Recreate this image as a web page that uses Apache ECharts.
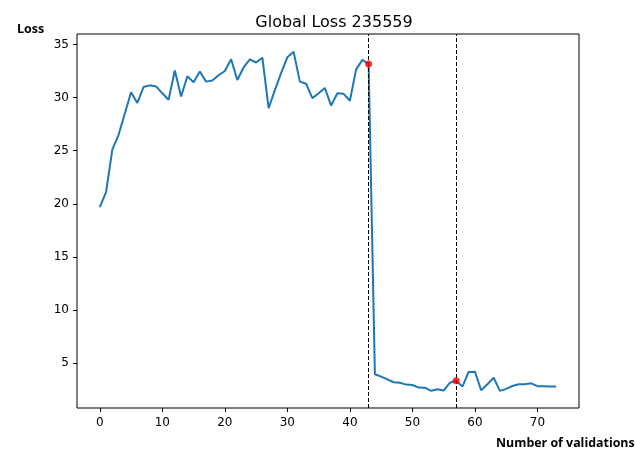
<!DOCTYPE html>
<html>
<head>
<meta charset="utf-8">
<script src="https://cdn.jsdelivr.net/npm/echarts@6/dist/echarts.min.js"></script>
<style>html,body{margin:0;padding:0;background:#fff}#c{width:636px;height:453px}</style>
</head>
<body>
<div id="c"></div>
<script>
const titleText = 'Global Loss 235559';
const yName = 'Loss';
const xName = 'Number of validations';
const lossValues = [
  19.7, 21.1, 25.1, 26.5, 28.5, 30.5, 29.5, 31.0, 31.15, 31.05,
  30.4, 29.8, 32.55, 30.1, 32.0, 31.45, 32.45, 31.5, 31.6, 32.1,
  32.5, 33.6, 31.65, 32.85, 33.6, 33.3, 33.75, 29.0, 30.7, 32.3,
  33.8, 34.3, 31.5, 31.3, 29.95, 30.4, 30.9, 29.25, 30.4, 30.35,
  29.7, 32.65, 33.55, 33.15, 3.97, 3.75, 3.5, 3.22, 3.18, 3.0,
  2.96, 2.72, 2.71, 2.42, 2.56, 2.44, 3.18, 3.37, 2.82, 4.19,
  4.22, 2.47, 3.03, 3.65, 2.41, 2.6, 2.87, 3.03, 3.03, 3.12,
  2.85, 2.85, 2.82, 2.82
];
const markIndices = [43, 57];
const xTicks = [0, 10, 20, 30, 40, 50, 60, 70];
const yTicks = [5, 10, 15, 20, 25, 30, 35];

const lineData = lossValues.map((v, i) => [i, v]);
const dotData = markIndices.map(i => [i, lossValues[i]]);

const chart = echarts.init(document.getElementById('c'), null, {renderer: 'canvas'});
chart.setOption({
  animation: false,
  backgroundColor: '#ffffff',
  title: [
    {text: titleText, left: 329, top: 10, textAlign: 'center',
     textStyle: {fontFamily: 'DejaVu Sans', fontSize: 16, fontWeight: 'normal', color: '#000'}},
    {text: yName, left: 12, top: 18,
     textStyle: {fontFamily: 'Open Sans', fontSize: 12.5, fontWeight: 'bold', color: '#000'}},
    {text: xName, left: 491, top: 432,
     textStyle: {fontFamily: 'Open Sans', fontSize: 12.4, fontWeight: 'bold', color: '#000'}}
  ],
  grid: {left: 77, right: 57, top: 34, bottom: 45, show: true, borderColor: '#000', borderWidth: 1, backgroundColor: 'transparent'},
  xAxis: {
    type: 'value', min: -3.65, max: 76.65,
    axisLine: {show: false, onZero: false},
    splitLine: {show: false},
    axisTick: {show: true, customValues: xTicks, length: 4, lineStyle: {color: '#000'}},
    axisLabel: {customValues: xTicks, color: '#000', fontFamily: 'DejaVu Sans', fontSize: 12, margin: 9}
  },
  yAxis: {
    type: 'value', min: 0.8, max: 35.98,
    axisLine: {show: false, onZero: false},
    splitLine: {show: false},
    axisTick: {show: true, customValues: yTicks, length: 4, lineStyle: {color: '#000'}},
    axisLabel: {customValues: yTicks, color: '#000', fontFamily: 'DejaVu Sans', fontSize: 12, margin: 8}
  },
  series: [
    {
      type: 'line', data: lineData, showSymbol: false, symbol: 'none',
      lineStyle: {color: '#1f77b4', width: 2},
      markLine: {
        silent: true, symbol: ['none', 'none'], label: {show: false},
        lineStyle: {color: '#000', type: [4, 2], width: 1},
        data: markIndices.map(i => ({xAxis: i}))
      }
    },
    {
      type: 'scatter', data: dotData, symbolSize: 7,
      itemStyle: {color: '#ff0000'}, z: 5
    }
  ]
});
</script>
</body>
</html>
